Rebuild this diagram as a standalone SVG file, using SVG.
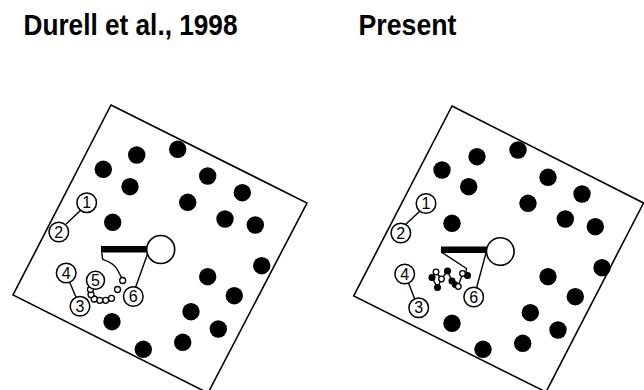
<svg xmlns="http://www.w3.org/2000/svg" width="644" height="390" viewBox="0 0 644 390">
<style>
.title{font-family:"Liberation Sans",Arial,sans-serif;font-weight:bold;font-size:29px;fill:#000}
.frame{fill:none;stroke:#000;stroke-width:1.6}
.dot{fill:#000}
.node{fill:#fff;stroke:#000;stroke-width:1.5}
.big{fill:#fff;stroke:#000;stroke-width:1.6}
.lbl{font-family:"Liberation Sans",Arial,sans-serif;font-size:16px;fill:#000;text-anchor:middle}
.ln{fill:none;stroke:#000;stroke-width:1.4}
.bar{stroke:#000;stroke-width:6.5;stroke-linecap:butt}
.sm{fill:#fff;stroke:#000;stroke-width:1.3}
.sf{fill:#000;stroke:#000;stroke-width:1.3}
</style>
<text class="title" x="23.5" y="35" textLength="214" lengthAdjust="spacingAndGlyphs">Durell et al., 1998</text>
<text class="title" x="358.5" y="35" textLength="98" lengthAdjust="spacingAndGlyphs">Present</text>

<!-- LEFT PANEL -->
<g id="left-panel">
<polygon class="frame" points="111,105 307,203 208,393 13,295"/>
<g id="left-obstacles">
<circle class="dot" cx="136.7" cy="155" r="8.7"/>
<circle class="dot" cx="177.7" cy="149.3" r="8.7"/>
<circle class="dot" cx="103.3" cy="169.3" r="8.7"/>
<circle class="dot" cx="130" cy="186.7" r="8.7"/>
<circle class="dot" cx="207.7" cy="176" r="8.7"/>
<circle class="dot" cx="242.3" cy="192.7" r="8.7"/>
<circle class="dot" cx="187.7" cy="202.3" r="8.7"/>
<circle class="dot" cx="225" cy="219" r="8.7"/>
<circle class="dot" cx="255.3" cy="225" r="8.7"/>
<circle class="dot" cx="112.7" cy="222.3" r="8.7"/>
<circle class="dot" cx="261.7" cy="265.7" r="8.7"/>
<circle class="dot" cx="207.7" cy="276.7" r="8.7"/>
<circle class="dot" cx="234.3" cy="295.7" r="8.7"/>
<circle class="dot" cx="191" cy="311.7" r="8.7"/>
<circle class="dot" cx="218.3" cy="329" r="8.7"/>
<circle class="dot" cx="182.7" cy="342.3" r="8.7"/>
<circle class="dot" cx="143.3" cy="349.3" r="8.7"/>
<circle class="dot" cx="112" cy="321.7" r="8.7"/>
</g>
<g id="left-connectors">
<line class="ln" x1="81" y1="210" x2="66" y2="224"/>
<line class="ln" x1="69.5" y1="282" x2="76" y2="297"/>
<line class="ln" x1="135.5" y1="287.5" x2="147.5" y2="254"/>
<path class="ln" d="M101.7,252.5 L102.7,259.3 C108,261 114,264 117,269 L121.5,277.5"/>
<line class="bar" x1="101" y1="249.3" x2="148" y2="249.3"/>
</g>
<g id="left-path">
<circle class="sm" cx="122.7" cy="280.5" r="3"/>
<circle class="sm" cx="117.5" cy="289.5" r="3"/>
<circle class="sm" cx="111.5" cy="298.3" r="3"/>
<circle class="sm" cx="105.6" cy="300.3" r="3"/>
<circle class="sm" cx="99.8" cy="300.3" r="3"/>
<circle class="sm" cx="94.2" cy="299" r="3"/>
<circle class="sm" cx="91" cy="294.6" r="3"/>
<circle class="sm" cx="90.5" cy="289.5" r="3"/>
</g>
<g id="left-platform"><circle class="big" cx="160.7" cy="249.5" r="14"/></g>
<g id="left-n1"><circle class="node" cx="86.7" cy="202.7" r="9.8"/><text class="lbl" x="86.7" y="208.3">1</text></g>
<g id="left-n2"><circle class="node" cx="58.8" cy="232" r="9.8"/><text class="lbl" x="58.8" y="237.6">2</text></g>
<g id="left-n4"><circle class="node" cx="66.2" cy="273" r="9.8"/><text class="lbl" x="66.2" y="278.6">4</text></g>
<g id="left-n3"><circle class="node" cx="80" cy="306.3" r="9.8"/><text class="lbl" x="80" y="311.9">3</text></g>
<g id="left-n5"><circle class="node" cx="95.5" cy="280.3" r="9"/><text class="lbl" x="95.5" y="285.9">5</text></g>
<g id="left-n6"><circle class="node" cx="133.3" cy="296.5" r="9.8"/><text class="lbl" x="133.3" y="302.1">6</text></g>
</g>

<!-- RIGHT PANEL -->
<g id="right-panel">
<polygon class="frame" points="452,106 643.5,203 546,392 353.7,296"/>
<g id="right-obstacles">
<circle class="dot" cx="477" cy="156.7" r="8.7"/>
<circle class="dot" cx="518" cy="150" r="8.7"/>
<circle class="dot" cx="442" cy="170" r="8.7"/>
<circle class="dot" cx="468.7" cy="186.7" r="8.7"/>
<circle class="dot" cx="548" cy="177.3" r="8.7"/>
<circle class="dot" cx="582" cy="194" r="8.7"/>
<circle class="dot" cx="528" cy="203.3" r="8.7"/>
<circle class="dot" cx="565.3" cy="219" r="8.7"/>
<circle class="dot" cx="595.3" cy="226.7" r="8.7"/>
<circle class="dot" cx="452" cy="223.3" r="8.7"/>
<circle class="dot" cx="602" cy="267.7" r="8.7"/>
<circle class="dot" cx="548" cy="276.7" r="8.7"/>
<circle class="dot" cx="575.3" cy="296.7" r="8.7"/>
<circle class="dot" cx="530.3" cy="312.7" r="8.7"/>
<circle class="dot" cx="558" cy="330" r="8.7"/>
<circle class="dot" cx="522.7" cy="343.3" r="8.7"/>
<circle class="dot" cx="483" cy="349.3" r="8.7"/>
<circle class="dot" cx="452" cy="323.3" r="8.7"/>
</g>
<g id="right-connectors">
<line class="ln" x1="420" y1="211" x2="405" y2="225"/>
<line class="ln" x1="408.5" y1="283" x2="414.5" y2="298.5"/>
<line class="ln" x1="476.5" y1="288" x2="486" y2="253"/>
<path class="ln" d="M442,252.5 L466.5,268.5 L466,272"/>
<line class="bar" x1="441" y1="249.8" x2="487" y2="249.8"/>
<path class="ln" d="M436,272 L432,277.5 L437.5,287.5 M441.5,279 L447.5,271 L452,281 L455,284.5 L458,286.5 L462.5,274 L467.5,275.5 M441.5,279 L437.5,287.5 M436,272 L441.5,279"/>
</g>
<g id="right-path">
<circle class="sf" cx="447.5" cy="271" r="2.9"/>
<circle class="sf" cx="432" cy="277.5" r="2.9"/>
<circle class="sf" cx="437.5" cy="287.5" r="2.9"/>
<circle class="sf" cx="452" cy="281" r="2.9"/>
<circle class="sf" cx="455" cy="284.5" r="2.7"/>
<circle class="sf" cx="467.5" cy="275.5" r="2.9"/>
<circle class="sm" cx="436" cy="272" r="2.8"/>
<circle class="sm" cx="441.5" cy="279" r="2.8"/>
<circle class="sm" cx="458.3" cy="286.5" r="2.8"/>
<circle class="sm" cx="462.5" cy="273.5" r="2.8"/>
</g>
<g id="right-platform"><circle class="big" cx="500.3" cy="251.5" r="13.8"/></g>
<g id="right-n1"><circle class="node" cx="426" cy="203.5" r="9.8"/><text class="lbl" x="426" y="209.1">1</text></g>
<g id="right-n2"><circle class="node" cx="400.8" cy="233" r="9.8"/><text class="lbl" x="400.8" y="238.6">2</text></g>
<g id="right-n4"><circle class="node" cx="404.7" cy="274" r="9.8"/><text class="lbl" x="404.7" y="279.6">4</text></g>
<g id="right-n3"><circle class="node" cx="418.7" cy="307.8" r="9.8"/><text class="lbl" x="418.7" y="313.4">3</text></g>
<g id="right-n6"><circle class="node" cx="473.7" cy="297" r="9.8"/><text class="lbl" x="473.7" y="302.6">6</text></g>
</g>
</svg>
